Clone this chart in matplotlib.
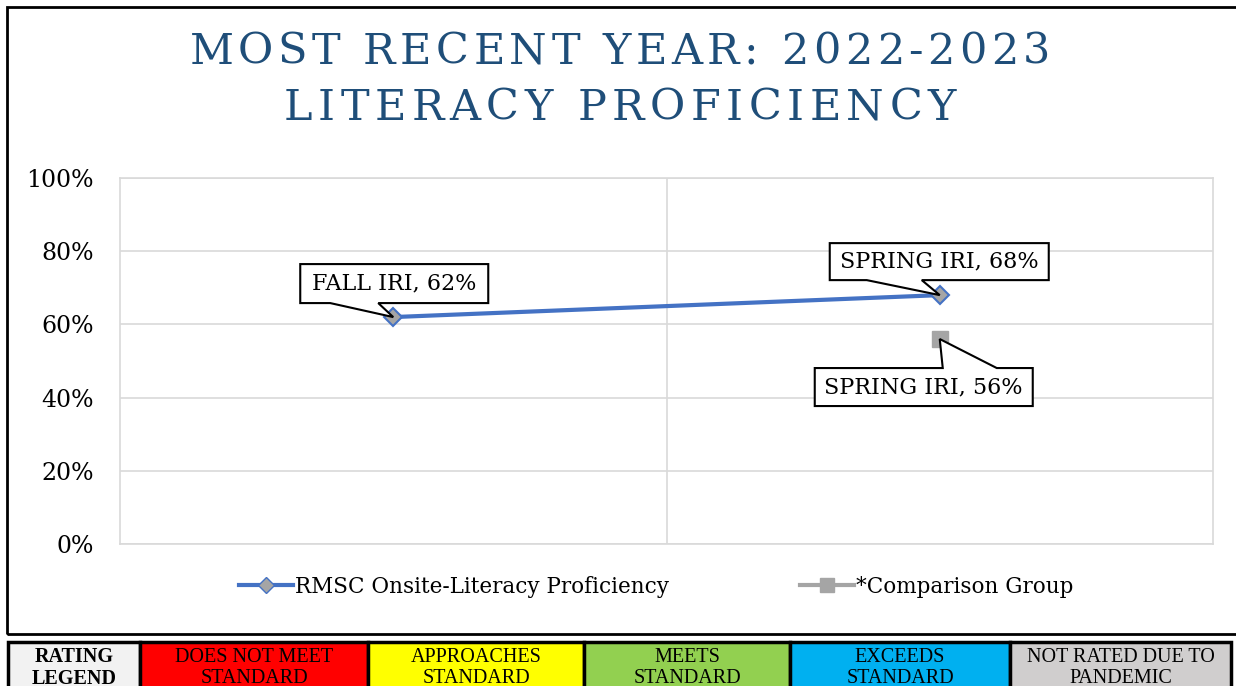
import numpy as np
import matplotlib.pyplot as plt
from matplotlib.patches import Rectangle, Polygon
from matplotlib.lines import Line2D
import matplotlib.transforms as mtransforms

plt.rcParams['font.family'] = ['DejaVu Serif']

# data
terms = ["FALL IRI", "SPRING IRI"]
rmsc_values = [62, 68]
comparison_terms = ["SPRING IRI"]
comparison_values = [56]
series_names = ["RMSC Onsite-Literacy Proficiency", "*Comparison Group"]
title_lines = ["MOST RECENT YEAR: 2022-2023", "LITERACY PROFICIENCY"]
y_ticks = [0, 20, 40, 60, 80, 100]
rating_labels = ["RATING\nLEGEND", "DOES NOT MEET\nSTANDARD", "APPROACHES\nSTANDARD",
                 "MEETS\nSTANDARD", "EXCEEDS\nSTANDARD", "NOT RATED DUE TO\nPANDEMIC"]
rating_colors = ["#f2f2f2", "#ff0000", "#ffff00", "#92d050", "#00b0f0", "#d0cece"]
rating_edges = [8, 140, 368, 584, 790, 1010, 1231]

W, H = 1236, 686
fig = plt.figure(figsize=(W / 100, H / 100), dpi=100)
renderer = fig.canvas.get_renderer()


def px_box(x0, y0, x1, y1):
    """pixel box (top-left origin) -> figure fraction rect"""
    return [x0 / W, 1 - y1 / H, (x1 - x0) / W, (y1 - y0) / H]


def spaced_text(xc, yc, s, spacing, **kw):
    """centered text with extra letter spacing (pixels, top-left origin)"""
    chars = [fig.text(0, 0, c, **kw) for c in s]
    widths = []
    for c, t in zip(s, chars):
        if c == " ":
            t.set_text("a a")
            w = t.get_window_extent(renderer).width
            t.set_text("aa")
            w -= t.get_window_extent(renderer).width
            t.set_text(" ")
        else:
            w = t.get_window_extent(renderer).width
        widths.append(w)
    total = sum(widths) + spacing * (len(s) - 1)
    x = xc - total / 2
    for t, w in zip(chars, widths):
        t.set_position((x / W, 1 - yc / H))
        t.set_ha("left")
        t.set_va("center")
        x += w + spacing


# outer chart frame
fig.patches.append(Rectangle((7 / W, 1 - 634 / H), 1.1, (634 - 7) / H,
                             transform=fig.transFigure, fill=False,
                             ec="black", lw=2))

# title
spaced_text(620, 52, title_lines[0], 4.5, fontsize=31, color="#1f4e79")
spaced_text(620, 108, title_lines[1], 5.5, fontsize=31, color="#1f4e79")

ax = fig.add_axes(px_box(120, 178, 1213, 544))
x_pos = {t: i + 0.5 for i, t in enumerate(terms)}
xs = [x_pos[t] for t in terms]
ax.plot(xs, rmsc_values, color="#4472c4", lw=3, marker="D", ms=9,
        mfc="#a5a5a5", mec="#4472c4", mew=1.5, zorder=4)
cx = [x_pos[t] for t in comparison_terms]
ax.plot(cx, comparison_values, color="#a5a5a5", lw=3, marker="s", ms=12,
        mfc="#a5a5a5", mec="#a5a5a5", zorder=4, linestyle="none")

ax.set_xlim(0, len(terms))
ax.set_ylim(0, 100)
ax.set_yticks(y_ticks)
ax.set_yticklabels([f"{v}%" for v in y_ticks], fontsize=17)
ax.set_xticks([1])
ax.set_xticklabels([])
ax.tick_params(length=0, pad=19)
ax.grid(True, color="#d9d9d9", lw=1.2)
for s in ax.spines.values():
    s.set_color("#d9d9d9")
    s.set_linewidth(1.2)


def callout(x, y, text, box, base):
    # box: (left, right, bottom, top) pixel offsets from point, base: pointer x offsets
    l, r, b, t = box
    if b > 0:
        verts = [(l, b), (base[0], b), (0, 0), (base[1], b), (r, b), (r, t), (l, t)]
    else:
        verts = [(l, b), (r, b), (r, t), (base[1], t), (0, 0), (base[0], t), (l, t)]
    tr = mtransforms.Affine2D() + mtransforms.ScaledTranslation(x, y, ax.transData)
    ax.add_patch(Polygon(verts, closed=True, transform=tr, fc="white",
                         ec="black", lw=1.5, zorder=5, clip_on=False))
    ax.annotate(text, (x, y), xytext=((l + r) / 2, (b + t) / 2),
                textcoords="offset pixels", ha="center", va="center",
                fontsize=16, zorder=6)


callout(xs[0], rmsc_values[0], f"{terms[0]}, {rmsc_values[0]}%",
        (-93, 95, 14, 53), (-63, -15))
callout(xs[1], rmsc_values[1], f"{terms[1]}, {rmsc_values[1]}%",
        (-110, 109, 15, 52), (-73, -18))
callout(cx[0], comparison_values[0], f"{comparison_terms[0]}, {comparison_values[0]}%",
        (-125, 93, -67, -29), (3, 57))

handles = [Line2D([], [], color="#4472c4", lw=3, marker="D", ms=8,
                  mfc="#a5a5a5", mec="#4472c4"),
           Line2D([], [], color="#a5a5a5", lw=3, marker="s", ms=10,
                  mfc="#a5a5a5", mec="#a5a5a5")]
fig.legend(handles, series_names, loc="center", bbox_to_anchor=(656 / W, 1 - 587 / H),
           ncol=2, frameon=False, fontsize=15.5, handlelength=2.5,
           handletextpad=0.1, columnspacing=6.1)

# rating legend table
tab = fig.add_axes([0, 0, 1, 1])
tab.set_xlim(0, W)
tab.set_ylim(H, 0)
tab.axis("off")
for i, (lab, col) in enumerate(zip(rating_labels, rating_colors)):
    x0, x1 = rating_edges[i], rating_edges[i + 1]
    tab.add_patch(Rectangle((x0, 642), x1 - x0, 60, fc=col, ec="black", lw=2.5))
    tab.text((x0 + x1) / 2, 668, lab, ha="center", va="center", fontsize=14.5,
             family=["Liberation Serif"], linespacing=1.1,
             fontweight="bold" if i == 0 else "normal")

fig.savefig("out.png", dpi=100)
